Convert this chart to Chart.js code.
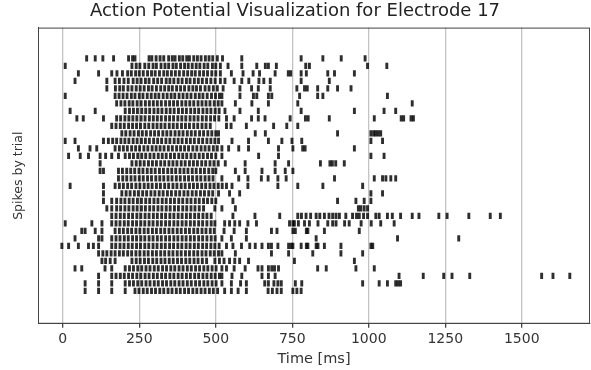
<!DOCTYPE html>
<html>
<head>
<meta charset="utf-8">
<script src="https://cdn.jsdelivr.net/npm/chart.js@4.4.1/dist/chart.umd.min.js"></script>
<style>
  html, body { margin: 0; padding: 0; background: #fff; }
  #wrap { width: 591px; height: 370px; }
</style>
</head>
<body>
<div id="wrap"><canvas id="raster"></canvas></div>
<script>
  // spike times (ms) per trial, top row first
  const spikeTrains = [
    [78, 106, 131, 166, 215, 228, 236, 282, 291, 305, 318, 330, 346, 358, 367, 381, 392, 405, 414, 428, 440, 452, 466, 478, 490, 505, 522, 585, 779, 850, 910, 988],
    [8, 226, 240, 252, 268, 281, 295, 306, 321, 334, 346, 360, 371, 385, 398, 410, 423, 436, 448, 462, 474, 489, 500, 515, 540, 585, 634, 662, 672, 698, 794, 806, 996, 1059],
    [51, 117, 160, 177, 195, 212, 224, 238, 250, 263, 277, 290, 302, 316, 330, 342, 355, 368, 381, 395, 408, 421, 433, 447, 460, 473, 487, 500, 515, 551, 589, 622, 643, 694, 737, 745, 779, 796, 866, 888, 953],
    [40, 144, 171, 185, 200, 214, 230, 243, 256, 270, 282, 297, 310, 323, 338, 350, 363, 377, 390, 404, 416, 430, 443, 456, 470, 484, 498, 515, 530, 560, 585, 608, 641, 657, 678, 779, 871],
    [144, 172, 186, 198, 213, 226, 240, 253, 266, 280, 292, 306, 320, 333, 346, 358, 372, 385, 398, 412, 425, 437, 450, 465, 478, 492, 505, 524, 579, 617, 639, 678, 765, 790, 799, 833, 866, 898, 942],
    [8, 171, 184, 197, 210, 224, 236, 250, 262, 276, 289, 302, 314, 328, 341, 354, 366, 380, 393, 406, 419, 433, 446, 458, 472, 486, 499, 512, 520, 579, 623, 634, 672, 683, 774, 833, 850, 1061],
    [176, 190, 203, 217, 229, 243, 256, 270, 283, 296, 309, 322, 336, 349, 362, 375, 389, 402, 415, 428, 442, 455, 468, 481, 495, 508, 520, 564, 618, 672, 768, 1142],
    [24, 106, 204, 218, 231, 244, 258, 271, 284, 298, 311, 324, 338, 351, 364, 378, 391, 404, 418, 431, 444, 458, 471, 484, 498, 511, 530, 579, 639, 779, 953, 1050, 1088],
    [46, 67, 133, 176, 189, 203, 216, 229, 242, 256, 269, 283, 296, 309, 322, 336, 349, 362, 376, 389, 402, 416, 429, 442, 456, 469, 483, 496, 510, 535, 560, 617, 639, 661, 743, 793, 802, 871, 1018, 1106, 1114, 1138, 1146],
    [160, 174, 188, 201, 215, 228, 241, 254, 268, 281, 295, 308, 321, 334, 348, 361, 374, 388, 401, 414, 428, 441, 455, 468, 482, 535, 550, 600, 689, 732, 768],
    [193, 206, 220, 233, 247, 260, 273, 287, 300, 313, 327, 340, 353, 367, 380, 393, 407, 420, 433, 447, 460, 474, 487, 500, 509, 629, 662, 898, 1007, 1016, 1023, 1031, 1039],
    [8, 40, 133, 149, 163, 176, 190, 203, 216, 230, 243, 257, 270, 283, 297, 310, 323, 337, 350, 364, 377, 390, 404, 417, 430, 444, 457, 471, 484, 497, 509, 553, 607, 672, 716, 749, 781, 1007, 1045],
    [51, 89, 111, 171, 185, 198, 211, 225, 238, 251, 265, 278, 292, 305, 318, 331, 345, 358, 372, 385, 398, 411, 425, 438, 452, 465, 478, 492, 505, 520, 542, 575, 607, 705, 752, 784, 792, 953],
    [19, 57, 84, 122, 140, 160, 182, 204, 218, 231, 245, 258, 271, 285, 298, 312, 325, 338, 352, 365, 379, 392, 405, 419, 432, 446, 459, 473, 486, 500, 520, 640, 705, 1007, 1050],
    [122, 226, 240, 253, 266, 280, 293, 306, 320, 333, 347, 360, 373, 387, 400, 414, 427, 440, 454, 467, 481, 494, 508, 531, 596, 694, 738, 842, 873, 881, 892, 920],
    [122, 133, 182, 195, 209, 222, 235, 249, 262, 276, 289, 302, 316, 329, 343, 356, 369, 383, 396, 409, 423, 436, 450, 463, 477, 490, 500, 564, 596, 651, 694, 727, 752],
    [182, 196, 209, 223, 236, 250, 263, 277, 290, 304, 317, 330, 344, 357, 371, 384, 398, 411, 424, 438, 451, 465, 478, 491, 520, 575, 605, 649, 671, 703, 730, 888, 1018, 1045, 1056, 1072, 1088],
    [24, 133, 171, 185, 198, 212, 225, 239, 252, 266, 279, 292, 306, 319, 333, 346, 360, 373, 387, 400, 414, 427, 440, 454, 467, 481, 494, 508, 521, 535, 553, 605, 703, 768, 850, 980],
    [133, 193, 207, 220, 234, 247, 261, 274, 288, 301, 315, 328, 342, 355, 369, 382, 396, 409, 423, 436, 450, 463, 477, 490, 509, 545, 578, 1007, 1045],
    [133, 160, 176, 190, 203, 217, 230, 244, 257, 271, 284, 298, 311, 325, 338, 352, 365, 379, 392, 406, 419, 433, 446, 460, 473, 487, 500, 556, 898, 958, 985, 1007],
    [144, 160, 176, 189, 203, 216, 230, 243, 257, 270, 284, 297, 311, 324, 338, 351, 365, 378, 392, 405, 419, 432, 446, 460, 497, 520, 564, 966, 974, 985, 996],
    [160, 174, 188, 201, 215, 228, 242, 255, 269, 282, 296, 309, 323, 336, 350, 363, 377, 390, 404, 417, 431, 444, 458, 471, 485, 556, 628, 709, 768, 780, 795, 810, 828, 840, 855, 870, 882, 893, 904, 925, 947, 960, 969, 983, 996, 1023, 1034, 1061, 1077, 1104, 1142, 1164, 1229, 1256, 1327, 1397, 1430],
    [8, 95, 128, 160, 174, 187, 201, 214, 228, 241, 255, 268, 282, 295, 309, 322, 336, 349, 363, 376, 390, 403, 417, 430, 444, 457, 471, 485, 497, 529, 545, 562, 578, 605, 633, 741, 752, 757, 770, 790, 806, 834, 866, 882, 893, 921, 936, 975, 1008, 1039, 1083],
    [62, 73, 106, 128, 171, 185, 198, 212, 225, 239, 252, 266, 279, 293, 306, 320, 333, 347, 360, 374, 387, 401, 414, 428, 441, 455, 468, 482, 495, 527, 560, 600, 682, 700, 752, 760, 796, 801, 855, 969],
    [40, 117, 128, 160, 174, 187, 201, 214, 228, 241, 255, 268, 282, 295, 309, 322, 336, 349, 363, 376, 390, 403, 417, 430, 444, 457, 471, 485, 498, 520, 551, 600, 828, 1094, 1294],
    [-3, 19, 51, 84, 100, 117, 160, 173, 187, 200, 214, 227, 241, 254, 268, 281, 295, 308, 322, 335, 349, 362, 376, 389, 403, 416, 430, 443, 457, 470, 484, 497, 511, 535, 556, 584, 611, 629, 651, 672, 682, 703, 738, 747, 752, 779, 796, 801, 828, 834, 855, 909, 1007, 1013],
    [117, 131, 144, 158, 171, 185, 198, 212, 225, 239, 252, 266, 279, 293, 306, 320, 333, 347, 360, 374, 387, 401, 414, 428, 441, 455, 468, 482, 495, 509, 520, 564, 682, 738, 817, 909, 980],
    [128, 140, 155, 171, 226, 240, 253, 267, 280, 294, 307, 321, 334, 348, 361, 375, 388, 402, 415, 429, 442, 456, 470, 497, 512, 527, 545, 562, 578, 607, 757, 953],
    [40, 62, 138, 160, 204, 218, 231, 245, 258, 272, 285, 299, 312, 326, 339, 353, 366, 380, 393, 407, 420, 434, 447, 461, 474, 488, 501, 520, 535, 560, 596, 638, 651, 672, 683, 692, 705, 833, 861, 958, 1018],
    [117, 160, 174, 188, 201, 215, 228, 242, 255, 269, 282, 296, 309, 323, 336, 350, 363, 377, 390, 404, 417, 431, 444, 458, 471, 485, 498, 512, 520, 553, 585, 651, 672, 694, 1099, 1178, 1245, 1272, 1330, 1565, 1602, 1657],
    [73, 117, 160, 204, 218, 231, 245, 258, 272, 285, 299, 312, 326, 339, 353, 366, 380, 393, 407, 420, 434, 447, 461, 474, 488, 501, 520, 551, 581, 600, 660, 672, 690, 703, 714, 760, 781, 980, 1034, 1061, 1088, 1096, 1104],
    [73, 117, 160, 204, 236, 249, 263, 276, 290, 303, 317, 330, 344, 357, 371, 384, 398, 411, 425, 438, 452, 465, 479, 492, 506, 529, 551, 573, 600, 671, 685, 700, 714, 752, 765, 779]
  ];
  const xTicks = [0, 250, 500, 750, 1000, 1250, 1500];
  const xRange = [-81, 1723];
  const yRange = [-4.1, 35.4];

  const points = [];
  spikeTrains.forEach(function (times, trial) {
    times.forEach(function (t) {
      points.push({ x: t, y: trial });
    });
  });

  // draw top and right spines too
  const frame = {
    id: "frame",
    afterDraw: function (chart) {
      const a = chart.chartArea;
      const ctx = chart.ctx;
      ctx.save();
      ctx.strokeStyle = "#444";
      ctx.lineWidth = 1;
      ctx.strokeRect(a.left + 0.5, a.top + 0.5, a.right - a.left - 1, a.bottom - a.top - 1);
      ctx.restore();
    },
  };

  const font = "'DejaVu Sans', sans-serif";

  new Chart(document.getElementById("raster"), {
    type: "scatter",
    data: {
      datasets: [{
        data: points,
        pointStyle: "line",
        rotation: 90,
        radius: 3.1,
        hoverRadius: 3.1,
        borderWidth: 2.9,
        borderColor: "rgba(0,0,0,0.82)",
        backgroundColor: "rgba(0,0,0,0.82)",
      }],
    },
    options: {
      responsive: true,
      maintainAspectRatio: false,
      animation: false,
      layout: { autoPadding: false, padding: { left: 0, right: 1, top: 0, bottom: 2 } },
      plugins: {
        legend: { display: false },
        tooltip: { enabled: false },
        title: {
          display: true,
          text: "Action Potential Visualization for Electrode 17",
          color: "#222",
          font: { family: font, size: 18, weight: "normal" },
          padding: { top: 1, bottom: 5 },
        },
      },
      scales: {
        x: {
          type: "linear",
          min: xRange[0],
          max: xRange[1],
          afterBuildTicks: function (scale) {
            scale.ticks = xTicks.map(function (v) { return { value: v }; });
          },
          grid: { color: "#c4c4c4", lineWidth: 1.3, tickColor: "#444", tickLength: 4 },
          border: { display: true, color: "#444" },
          ticks: {
            color: "#333",
            font: { family: font, size: 14 },
            padding: 3,
            maxRotation: 0,
            callback: function (v) { return String(v); },
          },
          title: { display: true, text: "Time [ms]", color: "#333", font: { family: font, size: 14.5 }, padding: { top: 0, bottom: 0 } },
        },
        y: {
          type: "linear",
          reverse: true,
          min: yRange[0],
          max: yRange[1],
          grid: { display: false },
          border: { display: true, color: "#444" },
          ticks: { display: false },
          title: { display: true, text: "Spikes by trial", color: "#333", font: { family: font, size: 12.5 }, padding: { top: 11, bottom: 8 } },
          afterFit: function (scale) { scale.width = 38; },
        },
      },
    },
    plugins: [frame],
  });
</script>
</body>
</html>
